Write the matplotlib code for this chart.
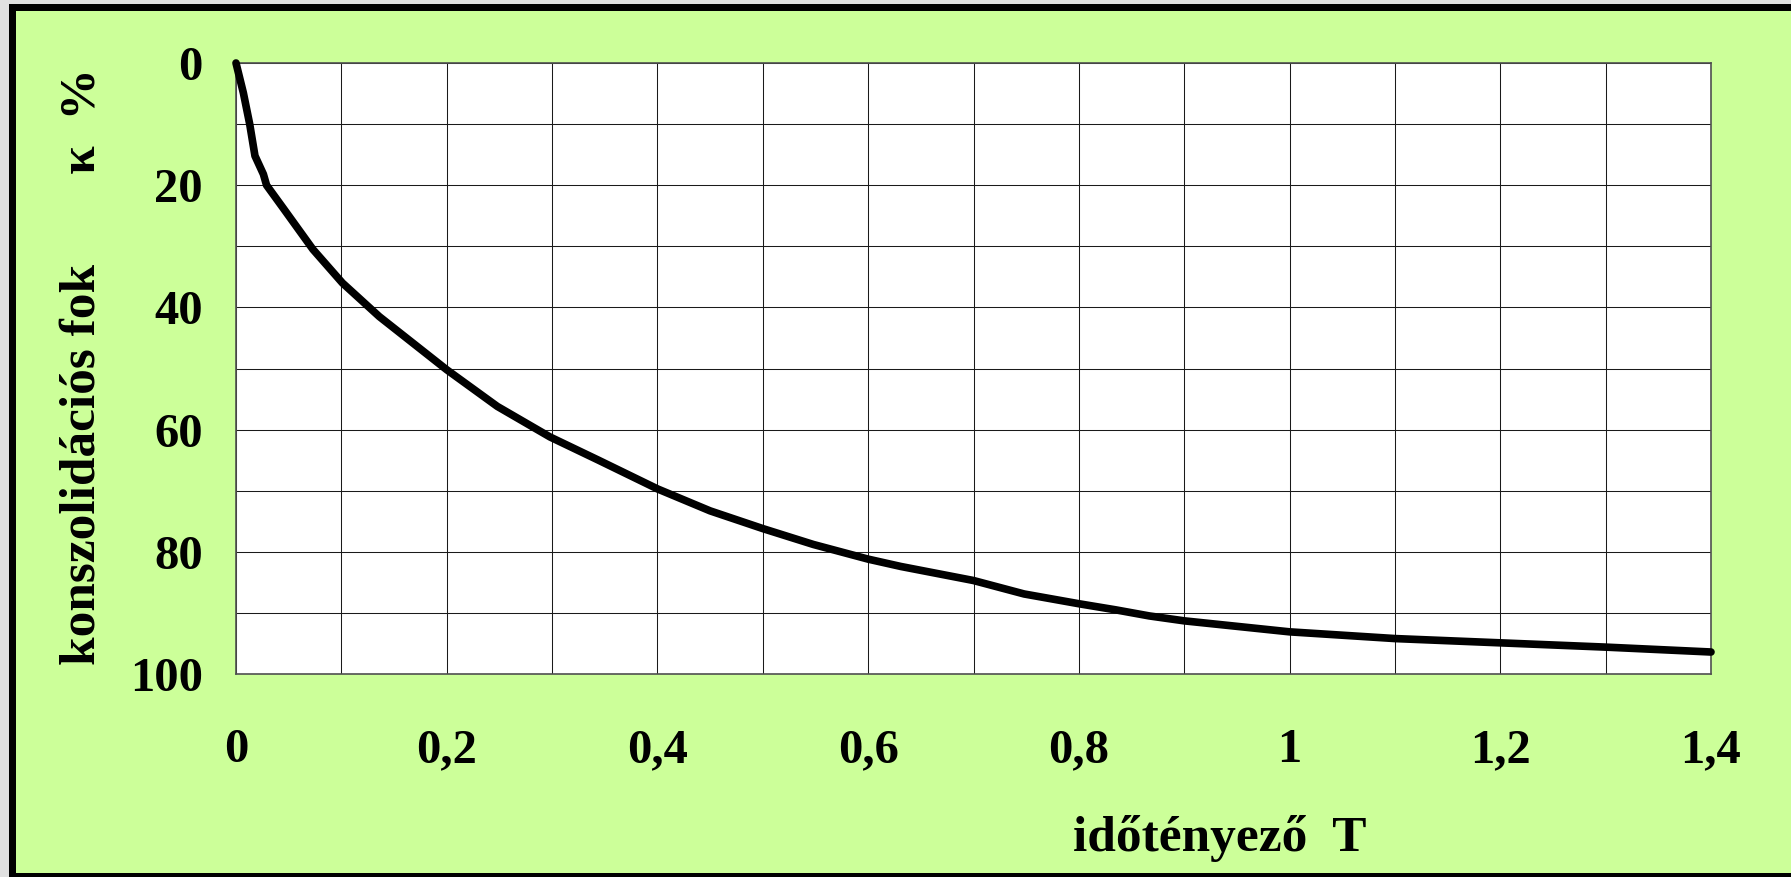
import matplotlib
matplotlib.use("Agg")
import matplotlib.pyplot as plt
from matplotlib.patches import Rectangle
from matplotlib.ticker import MultipleLocator, FuncFormatter

# időtényező (T) és konszolidációs fok (%)
T = [0, 0.007, 0.013, 0.018, 0.026, 0.029, 0.045, 0.073, 0.101, 0.136, 0.2,
     0.248, 0.298, 0.344, 0.4, 0.45, 0.5, 0.548, 0.6, 0.631, 0.7, 0.748, 0.8,
     0.835, 0.867, 0.9, 1.0, 1.1, 1.2, 1.3, 1.4]
U = [0, 4.9, 10, 15.2, 18.2, 20.0, 23.8, 30.5, 36.0, 41.5, 50.2,
     56.2, 61.2, 65.0, 69.7, 73.3, 76.2, 78.8, 81.2, 82.4, 84.7, 86.9, 88.5,
     89.5, 90.5, 91.3, 93.1, 94.2, 94.9, 95.6, 96.4]

x_ticks = [0, 0.2, 0.4, 0.6, 0.8, 1.0, 1.2, 1.4]
y_ticks = [0, 20, 40, 60, 80, 100]

plt.rcParams["font.family"] = ["Liberation Serif", "DejaVu Serif"]
plt.rcParams["font.weight"] = "bold"

W, H = 1791, 877
fig = plt.figure(figsize=(W / 100, H / 100), dpi=100, facecolor="#e0e0e0")

# keret: fekete szegély, zöld háttér
fig.add_artist(Rectangle((9 / W, 0), 1, 873 / H, transform=fig.transFigure,
                         facecolor="black", edgecolor="none", zorder=-2))
fig.add_artist(Rectangle((16 / W, 4 / H), 1, 862 / H, transform=fig.transFigure,
                         facecolor="#ccff99", edgecolor="none", zorder=-1))

ax = fig.add_axes([236 / W, 1 - 674 / H, (1711 - 236) / W, (674 - 63) / H])
ax.set_facecolor("white")

ax.plot(T, U, color="black", lw=5.5, solid_capstyle="round",
        solid_joinstyle="round", clip_on=False, zorder=5)

ax.set_xlim(0, 1.4)
ax.set_ylim(100, 0)
ax.set_xticks(x_ticks)
ax.set_yticks(y_ticks)
ax.xaxis.set_minor_locator(MultipleLocator(0.1))
ax.yaxis.set_minor_locator(MultipleLocator(10))
ax.xaxis.set_major_formatter(FuncFormatter(lambda v, p: f"{v:g}".replace(".", ",")))
ax.grid(which="both", color="#1a1a1a", lw=0.75)
ax.tick_params(which="both", length=0)
ax.tick_params(axis="x", labelsize=35, pad=39)
ax.tick_params(axis="y", labelsize=35, pad=24)
for s in ax.spines.values():
    s.set_color("#505050")
    s.set_linewidth(1.2)

fig.text(83 / W, 1 - 367 / H, "konszolidációs fok       κ  %", rotation=90,
         ha="center", va="center", fontsize=37, fontweight="bold")
fig.text(1220 / W, 1 - 838 / H, "időtényező  T", ha="center", va="center",
         fontsize=37, fontweight="bold")

fig.savefig("out.png", dpi=100, facecolor=fig.get_facecolor())
